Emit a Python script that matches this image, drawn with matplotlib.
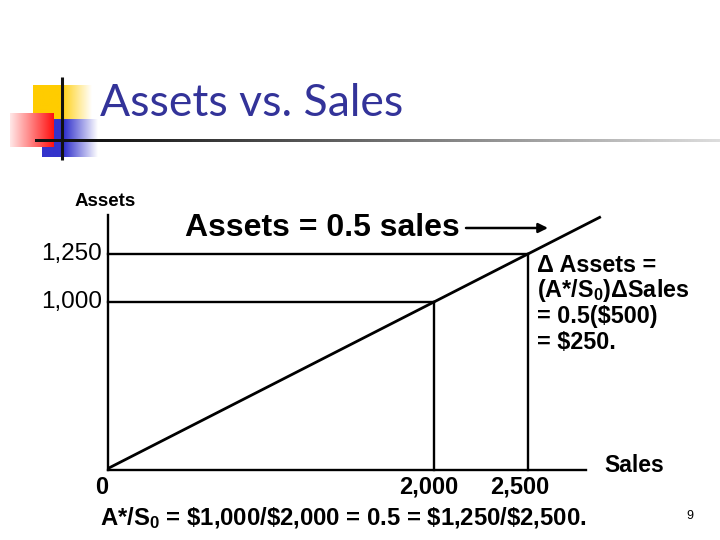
import numpy as np
import matplotlib
matplotlib.use("Agg")
import matplotlib.pyplot as plt

plt.rcParams['font.family'] = ['Liberation Sans', 'DejaVu Sans']
plt.rcParams['mathtext.fontset'] = 'custom'
plt.rcParams['mathtext.rm'] = 'Liberation Sans:bold'
plt.rcParams['mathtext.it'] = 'Liberation Sans:bold'
plt.rcParams['mathtext.bf'] = 'Liberation Sans:bold'

# ---------------- data ----------------
sales_points = [2000, 2500]
asset_points = [1000, 1250]
sales_labels = ['2,000', '2,500']
asset_labels = ['1,000', '1,250']
ratio = 0.5                      # A*/S0
sales_line_end = 2888            # where the drawn line stops
title = 'Assets vs. Sales'
line_label = 'Assets = 0.5 sales'
delta_lines = ['\u0394 Assets =', '(A*/S$_0$)\u0394Sales', '= 0.5(\\$500)', '= \\$250.']
footer = 'A*/S$_0$ = \\$1,000/\\$2,000 = 0.5 = \\$1,250/\\$2,500.'
slide_number = '9'

# axis window (schematic slide)
xlim = (266, 2809)
ylim = (125, 1453)

W, H = 720, 540
fig = plt.figure(figsize=(W / 100, H / 100), dpi=100)
fig.patch.set_facecolor('white')

# ---------------- decoration layer (pixel coords) ----------------
deco = fig.add_axes([0, 0, 1, 1], zorder=0)
deco.set_xlim(0, W)
deco.set_ylim(H, 0)
deco.axis('off')
deco.patch.set_visible(False)


def hgrad(c_left, c_right, n=256, solid_frac=0.0):
    c1 = np.array(matplotlib.colors.to_rgb(c_left))
    c2 = np.array(matplotlib.colors.to_rgb(c_right))
    t = np.linspace(0, 1, n)
    t = np.clip((t - solid_frac) / (1 - solid_frac), 0, 1)
    img = c1[None, :] * (1 - t[:, None]) + c2[None, :] * t[:, None]
    return img[None, :, :]


# yellow square fading right
deco.imshow(hgrad('#FFCC00', '#FFFFFF', solid_frac=0.45), extent=(33, 92, 119, 85),
            aspect='auto', zorder=1, interpolation='bilinear')
# blue square fading right
deco.imshow(hgrad('#3333CC', '#FFFFFF', solid_frac=0.4), extent=(42, 98, 157, 119),
            aspect='auto', zorder=1, interpolation='bilinear')
# red rectangle, pale left -> red right
deco.imshow(hgrad('#FFE8E8', '#FF1010', solid_frac=0.0), extent=(10, 54, 147, 113),
            aspect='auto', zorder=2, interpolation='bilinear')
# underline gradient
deco.imshow(hgrad('#111111', '#DDDDDD', solid_frac=0.08), extent=(35, 720, 142.5, 139.5),
            aspect='auto', zorder=3, interpolation='bilinear')
# vertical logo line
deco.plot([61.5, 61.5], [77, 160], color='#111111', lw=2.2, zorder=4, solid_capstyle='butt')
deco.set_xlim(0, W)
deco.set_ylim(H, 0)

deco.text(100, 103, title, fontsize=32, color='#333399', family='Lato',
          ha='left', va='center', zorder=5)

# annotation text + arrow
deco.text(185, 228, line_label, fontsize=23, fontweight='bold', ha='left', va='center')
deco.annotate('', xy=(548, 228), xytext=(466, 228),
              arrowprops=dict(arrowstyle='-|>', color='black', lw=1.8,
                              mutation_scale=14, shrinkA=0, shrinkB=0))
for i, s in enumerate(delta_lines):
    deco.text(537, 265 + i * 25.7, s, fontsize=16.8, fontweight='bold',
              ha='left', va='center')
deco.text(100, 518, footer, fontsize=17.2, fontweight='bold', ha='left', va='center')
deco.text(690, 516, slide_number, fontsize=9, ha='center', va='center')

# ---------------- chart ----------------
L, R, T, B = 108, 586, 215, 470
ax = fig.add_axes([L / W, 1 - B / H, (R - L) / W, (B - T) / H], zorder=2)
ax.patch.set_visible(False)
ax.set_xlim(*xlim)
ax.set_ylim(*ylim)
for side in ('top', 'right'):
    ax.spines[side].set_visible(False)
for side in ('left', 'bottom'):
    ax.spines[side].set_linewidth(1.7)
    ax.spines[side].set_color('black')
ax.set_xticks([])
ax.set_yticks([])

# line Assets = ratio * Sales
xs = np.array([xlim[0], sales_line_end])
ax.plot(xs, ratio * xs, color='black', lw=2.0, clip_on=False, solid_capstyle='butt')

for s, a in zip(sales_points, asset_points):
    ax.plot([xlim[0], s], [a, a], color='black', lw=1.7, clip_on=False)
    ax.plot([s, s], [ylim[0], a], color='black', lw=1.7, clip_on=False)

for a, lab in zip(asset_points, asset_labels):
    ax.annotate(lab, xy=(xlim[0], a), xytext=(-6, 0), textcoords='offset pixels',
                ha='right', va='center', fontsize=17.5)

for s, lab, dx in zip(sales_points, sales_labels, [-5, -8]):
    ax.annotate(lab, xy=(s, ylim[0]), xytext=(dx, -17), textcoords='offset pixels',
                ha='center', va='center', fontsize=17, fontweight='bold')

ax.annotate('0', xy=(xlim[0], ylim[0]), xytext=(-6, -17), textcoords='offset pixels',
            ha='center', va='center', fontsize=17, fontweight='bold')
ax.annotate('Sales', xy=(xlim[1], ylim[0]), xytext=(48, 5), textcoords='offset pixels',
            ha='center', va='center', fontsize=16.5, fontweight='bold')
ax.annotate('Assets', xy=(xlim[0], ylim[1]), xytext=(-3, 13), textcoords='offset pixels',
            ha='center', va='center', fontsize=13.5, fontweight='bold')

fig.savefig('out.png', dpi=100, facecolor='white')
